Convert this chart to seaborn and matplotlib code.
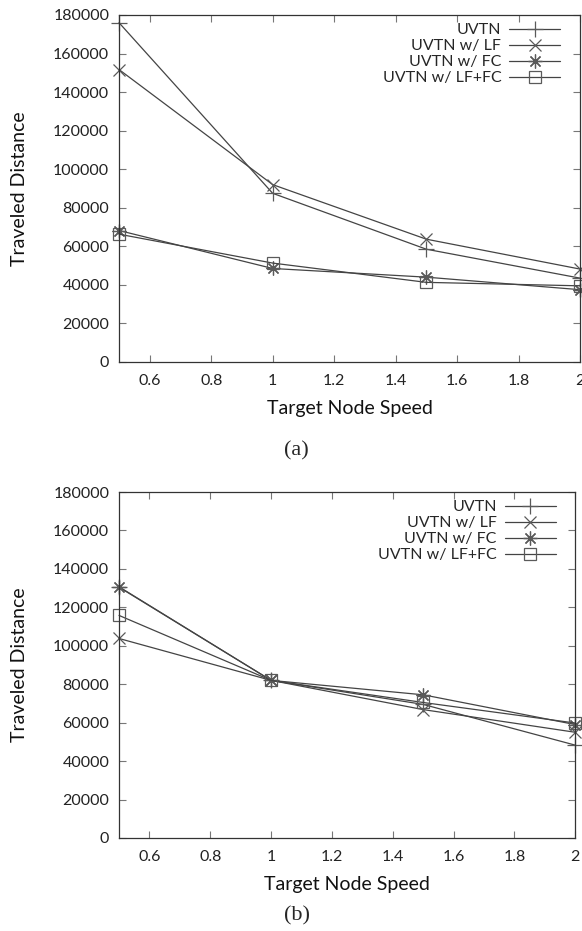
import matplotlib
matplotlib.use("Agg")
import matplotlib.pyplot as plt
import matplotlib.ticker as mticker
import seaborn as sns
import pandas as pd

speed = [0.5, 1.0, 1.5, 2.0]
methods = ['UVTN', 'UVTN w/ LF', 'UVTN w/ FC', 'UVTN w/ LF+FC']

# panel (a)
dist_a = {
    'UVTN': [176000, 87500, 58500, 43500],
    'UVTN w/ LF': [151700, 92000, 63700, 48200],
    'UVTN w/ FC': [68200, 48500, 44000, 37500],
    'UVTN w/ LF+FC': [66300, 51300, 41300, 39500],
}
# panel (b)
dist_b = {
    'UVTN': [130500, 82000, 69500, 48300],
    'UVTN w/ LF': [103800, 82000, 66800, 55000],
    'UVTN w/ FC': [130700, 82000, 74500, 59000],
    'UVTN w/ LF+FC': [115800, 82000, 70500, 59800],
}

markers = {'UVTN': '+', 'UVTN w/ LF': 'x', 'UVTN w/ FC': (8, 2, 0), 'UVTN w/ LF+FC': 's'}
msizes = {'UVTN': 11, 'UVTN w/ LF': 9, 'UVTN w/ FC': 10, 'UVTN w/ LF+FC': 9}

sns.set_style("ticks")
plt.rcParams['font.family'] = ['Lato', 'DejaVu Sans']


def long_df(d):
    rows = []
    for m in methods:
        for s, v in zip(speed, d[m]):
            rows.append({'speed': s, 'dist': v, 'method': m})
    return pd.DataFrame(rows)


def draw(ax, d):
    df = long_df(d)
    for m in methods:
        sub = df[df['method'] == m]
        sns.lineplot(data=sub, x='speed', y='dist', ax=ax, color='#444444', lw=0.9,
                     marker=markers[m], markersize=msizes[m], markerfacecolor='none',
                     markeredgecolor='#5a5a5a', markeredgewidth=0.9, label=m, clip_on=False)
    ax.set_xlim(0.5, 2.0)
    ax.set_ylim(0, 180000)
    ax.set_xticks([0.6, 0.8, 1.0, 1.2, 1.4, 1.6, 1.8, 2.0])
    ax.set_yticks(range(0, 180001, 20000))
    ax.xaxis.set_major_formatter(mticker.FuncFormatter(lambda v, p: '%g' % v))
    ax.tick_params(direction='in', length=5, width=0.8, color='#777777', labelsize=11.5,
                   labelcolor='#222222', top=True, right=True)
    ax.tick_params(axis='x', pad=9)
    ax.tick_params(axis='y', pad=7)
    for sp in ax.spines.values():
        sp.set_color('#333333')
        sp.set_linewidth(0.9)
    ax.set_xlabel('Target Node Speed', fontsize=14, color='#111111', labelpad=8)
    ax.set_ylabel('Traveled Distance', fontsize=14, color='#111111', labelpad=18)
    ax.legend(loc='upper right', frameon=False, markerfirst=False, fontsize=11.5,
              handlelength=3.2, handletextpad=0.5, labelspacing=0.12,
              borderaxespad=0.1, bbox_to_anchor=(0.975, 1.0))


fig = plt.figure(figsize=(5.82, 9.31), dpi=100)
ax1 = fig.add_axes([0.2045, 0.6112, 0.792, 0.3727])
ax2 = fig.add_axes([0.2045, 0.0999, 0.784, 0.3716])
draw(ax1, dist_a)
draw(ax2, dist_b)

fig.text(0.51, 0.516, '(a)', ha='center', va='center', fontsize=16, family='Liberation Serif')
fig.text(0.51, 0.016, '(b)', ha='center', va='center', fontsize=16, family='Liberation Serif')

fig.savefig('out.png', dpi=100)
